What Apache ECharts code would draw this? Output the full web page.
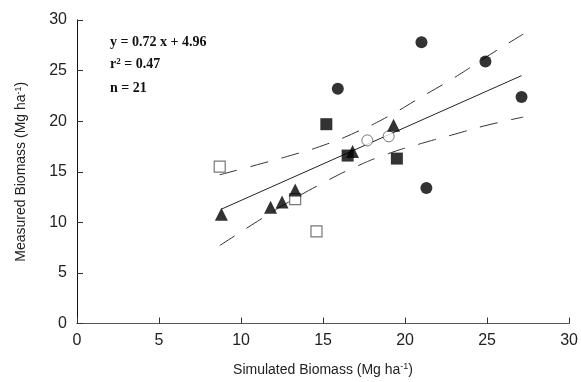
<!DOCTYPE html>
<html>
<head>
<meta charset="utf-8">
<script src="https://cdn.jsdelivr.net/npm/echarts@6/dist/echarts.min.js"></script>
<style>
html,body{margin:0;padding:0;background:#fff;}
#main{width:581px;height:382px;}
</style>
</head>
<body>
<div id="main"></div>
<script>
// data (Simulated, Measured)
var filledCircles = [[21.0, 27.8], [24.9, 25.9], [27.1, 22.4], [15.9, 23.2], [21.3, 13.4]];
var openCircles = [[17.7, 18.1], [19.0, 18.5]];
var filledSquares = [[15.2, 19.7], [16.5, 16.6], [19.5, 16.3]];
var openSquares = [[8.7, 15.5], [13.3, 12.3], [14.6, 9.1]];
var triangles = [[8.8, 10.8], [11.8, 11.5], [12.5, 12.0], [13.3, 13.2], [16.8, 17.0], [19.3, 19.6]];

// regression and confidence band
var fitLine = [[8.8, 11.3], [27.1, 24.5]];
var bandX = [8.7, 11, 13, 15, 17, 19, 21, 23, 25, 27.2];
var upperBand = [14.7, 15.7, 16.6, 17.6, 18.9, 20.5, 22.4, 24.3, 26.4, 28.6];
var lowerBand = [7.7, 10.1, 12.1, 13.9, 15.5, 16.8, 17.8, 18.7, 19.6, 20.4];

var xTicks = [0, 5, 10, 15, 20, 25, 30];
var yTicks = [0, 5, 10, 15, 20, 25, 30];

function zip(xs, ys) {
    return xs.map(function (x, i) { return [x, ys[i]]; });
}

var myChart = echarts.init(document.getElementById('main'));

var dashStyle = {color: '#333', width: 1, type: [18, 14]};

var option = {
    backgroundColor: '#fff',
    animation: false,
    grid: {left: 77, right: 9, top: 20, bottom: 57},
    xAxis: [{
        type: 'value',
        min: 0, max: 30, interval: 5,
        name: '{n|Simulated Biomass (Mg ha}{s|-1}{n|)}',
        nameLocation: 'middle',
        nameGap: 39,
        nameTextStyle: {
            rich: {
                n: {fontFamily: 'Liberation Sans', fontSize: 14, color: '#222'},
                s: {fontFamily: 'Liberation Sans', fontSize: 9, color: '#222', verticalAlign: 'top', padding: [0, 0, 6, 0]}
            }
        },
        axisLine: {lineStyle: {color: '#555', width: 1}},
        axisTick: {inside: true, length: 6, lineStyle: {color: '#333'}},
        axisLabel: {
            fontFamily: 'Liberation Sans', fontSize: 16, color: '#222', margin: 9,
            formatter: function (v) { return xTicks.indexOf(v) >= 0 ? String(v) : ''; }
        },
        splitLine: {show: false}
    }, {
        type: 'value', position: 'top',
        min: 0, max: 30,
        axisLine: {show: true, lineStyle: {color: '#555', width: 1}},
        axisTick: {show: false}, axisLabel: {show: false}, splitLine: {show: false}
    }],
    yAxis: [{
        type: 'value',
        min: 0, max: 30, interval: 5,
        name: '{n|Measured Biomass (Mg ha}{s|-1}{n|)}',
        nameLocation: 'middle',
        nameRotate: 90,
        nameGap: 48,
        nameTextStyle: {
            rich: {
                n: {fontFamily: 'Liberation Sans', fontSize: 14, color: '#222'},
                s: {fontFamily: 'Liberation Sans', fontSize: 9, color: '#222', verticalAlign: 'top', padding: [0, 0, 6, 0]}
            }
        },
        axisLine: {show: true, lineStyle: {color: '#777', width: 1}},
        axisTick: {show: true, inside: true, length: 6, lineStyle: {color: '#333'}},
        axisLabel: {
            fontFamily: 'Liberation Sans', fontSize: 16, color: '#222', margin: 10,
            formatter: function (v) { return yTicks.indexOf(v) >= 0 ? String(v) : ''; }
        },
        splitLine: {show: false}
    }, {
        type: 'value', position: 'right',
        min: 0, max: 30,
        axisLine: {show: true, lineStyle: {color: '#111', width: 1}},
        axisTick: {show: false}, axisLabel: {show: false}, splitLine: {show: false}
    }],
    graphic: [{
        type: 'text', left: 110, top: 35,
        style: {text: 'y = 0.72 x + 4.96', font: 'bold 14px "Liberation Serif"', fill: '#111'}
    }, {
        type: 'text', left: 110, top: 57,
        style: {
            text: '{a|r}{s|2}{a| = 0.47}',
            rich: {
                a: {font: 'bold 14px "Liberation Serif"', fill: '#111'},
                s: {font: 'bold 9px "Liberation Serif"', fill: '#111', verticalAlign: 'top', padding: [0, 0, 6, 0]}
            }
        }
    }, {
        type: 'text', left: 110, top: 81,
        style: {text: 'n = 21', font: 'bold 14px "Liberation Serif"', fill: '#111'}
    }],
    series: [
        {type: 'line', data: fitLine, symbol: 'none', lineStyle: {color: '#222', width: 1}, z: 1},
        {type: 'line', data: zip(bandX, upperBand), symbol: 'none', smooth: true, lineStyle: dashStyle, z: 1},
        {type: 'line', data: zip(bandX, lowerBand), symbol: 'none', smooth: true, lineStyle: dashStyle, z: 1},
        {type: 'scatter', data: filledCircles, symbol: 'circle', symbolSize: 12, itemStyle: {color: '#000'}},
        {type: 'scatter', data: openCircles, symbol: 'circle', symbolSize: 11, itemStyle: {color: '#fff', borderColor: '#555', borderWidth: 1}},
        {type: 'scatter', data: filledSquares, symbol: 'rect', symbolSize: 12, itemStyle: {color: '#000'}},
        {type: 'scatter', data: openSquares, symbol: 'rect', symbolSize: 11, itemStyle: {color: 'rgba(255,255,255,0)', borderColor: '#555', borderWidth: 1.2}},
        {type: 'scatter', data: triangles, symbol: 'triangle', symbolSize: 13, itemStyle: {color: '#000'}}
    ]
};

myChart.setOption(option);
</script>
</body>
</html>
